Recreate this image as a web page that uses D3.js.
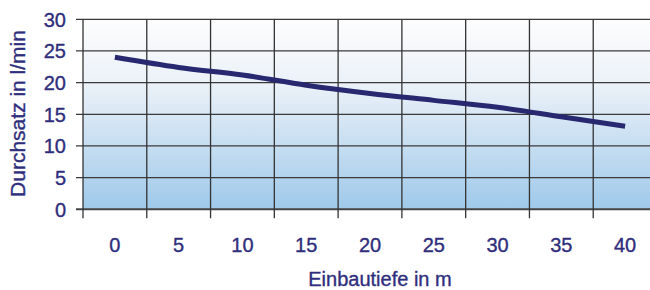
<!DOCTYPE html>
<meta charset="utf-8">
<script src="https://d3js.org/d3.v7.min.js"></script>
<style>
  body { margin: 0; background: #fff; }
  text { font-family: "Liberation Sans", Arial, sans-serif; fill: #2f2e7c; stroke: #2f2e7c; stroke-width: 0.35px; }
</style>
<body>
<div id="chart"></div>
<script>
    // values
    const depths = [0, 5, 10, 15, 20, 25, 30, 35, 40];
    const flow = [24, 22.4, 21.2, 19.6, 18.3, 17.2, 16.1, 14.6, 13.1];
    const yTicks = [0, 5, 10, 15, 20, 25, 30];

    const W = 650, H = 290;
    const plot = {left: 83, top: 19.3, bottom: 209.3, right: 657};

    const svg = d3.select("#chart")
        .append("svg")
        .attr("width", W)
        .attr("height", H);

    const x = d3.scaleBand()
        .domain(depths)
        .range([plot.left, plot.right])
        .padding(0);

    const y = d3.scaleLinear()
        .domain([0, 30])
        .range([plot.bottom, plot.top]);

    // background gradient
    const grad = svg.append("defs").append("linearGradient")
        .attr("id", "bg")
        .attr("x1", 0).attr("y1", 0).attr("x2", 0).attr("y2", 1);
    grad.append("stop").attr("offset", "0%").attr("stop-color", "#fdfdfd");
    grad.append("stop").attr("offset", "35%").attr("stop-color", "#eaf1f8");
    grad.append("stop").attr("offset", "100%").attr("stop-color", "#9fc9ea");

    svg.append("rect")
        .attr("x", plot.left).attr("y", plot.top)
        .attr("width", plot.right - plot.left).attr("height", plot.bottom - plot.top)
        .attr("fill", "url(#bg)");

    // horizontal grid + y ticks
    svg.append("g").selectAll("line")
        .data(yTicks)
        .join("line")
        .attr("x1", plot.left - 7)
        .attr("x2", plot.right)
        .attr("y1", d => y(d))
        .attr("y2", d => y(d))
        .attr("stroke", d => d === 0 ? "#444" : "#3a3a3a")
        .attr("stroke-width", d => d === 0 ? 2 : 1.3);

    // vertical grid + x ticks at band edges
    const edges = depths.map(d => x(d)).concat([plot.right]);
    svg.append("g").selectAll("line")
        .data(edges)
        .join("line")
        .attr("x1", d => d)
        .attr("x2", d => d)
        .attr("y1", plot.top)
        .attr("y2", plot.bottom + 9)
        .attr("stroke", "#333")
        .attr("stroke-width", 1.3);

    // y tick labels
    svg.append("g").selectAll("text")
        .data(yTicks)
        .join("text")
        .attr("x", 66)
        .attr("y", d => y(d) + 7.5)
        .attr("text-anchor", "end")
        .style("font-size", "20px")
        .text(d => d);

    // x tick labels
    svg.append("g").selectAll("text")
        .data(depths)
        .join("text")
        .attr("x", d => x(d) + x.bandwidth() / 2)
        .attr("y", 251.5)
        .attr("text-anchor", "middle")
        .style("font-size", "20px")
        .text(d => d);

    // line
    const line = d3.line()
        .x((d, i) => x(depths[i]) + x.bandwidth() / 2)
        .y(d => y(d))
        .curve(d3.curveMonotoneX);

    svg.append("path")
        .datum(flow)
        .attr("d", line)
        .attr("fill", "none")
        .attr("stroke", "#27286f")
        .attr("stroke-width", 5);

    // titles
    svg.append("text")
        .attr("x", 380)
        .attr("y", 286)
        .attr("text-anchor", "middle")
        .style("font-size", "20px")
        .text("Einbautiefe in m");

    svg.append("text")
        .attr("transform", "translate(25,113.5) rotate(-90)")
        .attr("text-anchor", "middle")
        .style("font-size", "21px")
        .text("Durchsatz in l/min");
</script>
</body>
